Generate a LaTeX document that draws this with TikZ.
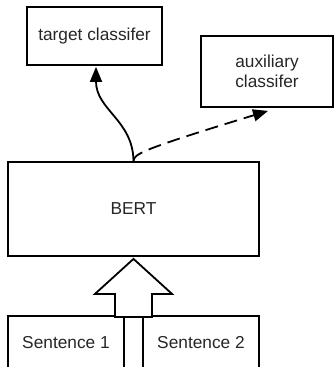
\documentclass[tikz,border=0pt]{standalone}
\usepackage{fontspec}
\setmainfont{Liberation Sans}
\usetikzlibrary{arrows.meta,positioning,calc}

\begin{document}
\begin{tikzpicture}[x=1pt,y=-1pt,
  box/.style={draw,line width=1.8pt,align=center,inner sep=2pt,
    font=\fontsize{17.3}{20.5}\selectfont,text=black!85},
  link/.style={line width=1.8pt,-{Triangle[length=15pt,width=12pt]}},
  bigarrow/.style={draw,line width=1.8pt,fill=white,line join=miter}
]
  \useasboundingbox (0,0) rectangle (334,367);
  % classifiers on top
  \node[box,minimum width=135pt,minimum height=58pt] (target) at (94.5,36) {target classifer};
  \node[box,minimum width=132pt,minimum height=71pt] (aux) at (267,71.5) {auxiliary\\classifer};
  % encoder
  \node[box,minimum width=251pt,minimum height=94pt] (bert) at (133.5,209) {BERT};
  % input pair (boxes run past the lower edge)
  \node[box,minimum width=116pt,minimum height=54pt] (sent1) at (66,343) {Sentence 1};
  \node[box,minimum width=116pt,minimum height=54pt] (sent2) at (201,343) {Sentence 2};
  % block arrow from the inputs into BERT
  \coordinate (tip) at ($(bert.south)+(0,2)$);
  \draw[bigarrow] (tip) -- ++(-38.5,35) -- ++(20,0) -- ++(0,23) -- ++(37,0)
    -- ++(0,-23) -- ++(20,0) -- cycle;
  % outputs
  \coordinate (tgtend) at ($(target.south)+(1.5,1)$);
  \coordinate (auxend) at ($(aux.south)+(1,3)$);
  \draw[link] (bert.north) .. controls (133,120) and (96,110) .. (tgtend);
  \draw[link,dash pattern=on 13pt off 7pt] (bert.north) .. controls (134,154) and (140,150) .. (auxend);
\end{tikzpicture}
\end{document}
